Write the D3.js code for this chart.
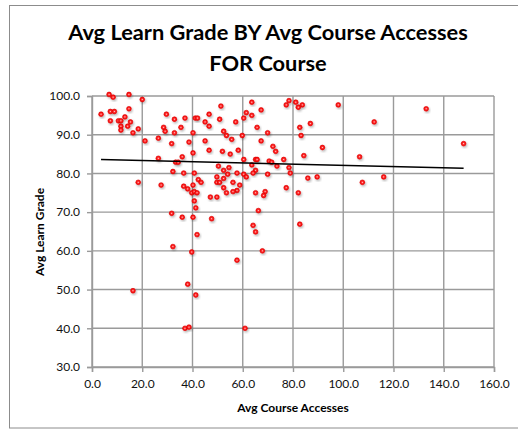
<!DOCTYPE html>
<html>
<head>
<meta charset="utf-8">
<script src="https://cdn.jsdelivr.net/npm/d3@7"></script>
<style>
  html, body { margin: 0; padding: 0; background: #fff; }
  svg { display: block; font-family: Lato, "Open Sans", sans-serif; }
</style>
</head>
<body>
<svg id="chart" width="518" height="433"></svg>
<script>
// Average course accesses per course (x) and average learn grade (y)
const accesses = [
  6.8, 8.4, 14.7, 20.0, 3.6, 7.3, 8.9, 14.7, 13.1, 7.3, 10.5, 11.5, 15.3, 11.5, 14.2, 11.5, 18.4, 16.3,
  29.6, 32.8, 37.0, 41.1, 42.0, 46.6, 45.0, 46.6, 50.8, 28.5, 29.1, 32.8, 35.4, 40.2, 21.1, 26.4, 31.7,
  38.6, 45.0, 46.6, 40.2, 26.4, 35.9, 33.3, 34.3, 50.3, 32.2, 36.5, 40.7, 49.7, 42.3, 43.4, 49.7, 50.8,
  18.4, 27.5, 36.5, 40.2, 38.1, 39.7, 40.7, 41.8, 40.7, 47.1, 49.7,
  63.6, 78.4, 77.3, 81.1, 83.7, 82.1, 98.0, 51.3, 67.3, 61.4, 63.6, 60.4, 57.2, 65.7, 82.7, 86.9, 52.4,
  53.5, 55.6, 59.8, 69.9, 83.2, 67.3, 51.9, 58.2, 55.0, 72.0, 73.1, 91.7, 84.3, 60.4, 65.1, 65.7, 70.5,
  71.5, 76.3, 63.6, 73.6, 78.4, 54.5, 52.4, 65.1, 64.1, 57.7, 60.4, 61.4, 54.0, 69.9, 78.9, 89.6, 85.9,
  56.1, 58.8, 52.4, 57.7, 56.1, 53.5, 65.1, 68.9, 68.3, 77.3, 82.1, 52.4,
  66.2, 47.6, 64.1, 65.1, 82.7, 67.8, 57.7, 60.9,
  31.7, 35.9, 40.2, 41.3, 41.8, 32.2, 39.7, 38.1, 16.3, 41.3, 37.0, 38.6,
  112.3, 133.0, 106.5, 147.9, 116.1, 107.6
];
const grades = [
  100.4, 99.7, 100.4, 99.1, 95.3, 96.0, 96.0, 96.7, 94.6, 93.6, 93.6, 93.6, 93.3, 92.2, 92.2, 91.2, 91.5, 90.5,
  95.3, 94.0, 94.3, 94.3, 94.3, 95.3, 93.3, 92.2, 94.0, 91.9, 90.9, 90.5, 91.9, 90.5, 88.4, 89.1, 87.7,
  88.1, 88.4, 86.0, 85.3, 83.9, 84.3, 82.9, 82.9, 81.9, 80.5, 80.1, 80.1, 79.1, 78.4, 77.7, 77.7, 77.7,
  77.7, 77.0, 76.7, 77.0, 76.0, 75.0, 75.3, 75.0, 72.9, 73.9, 73.9,
  98.4, 98.8, 97.7, 98.4, 97.7, 97.1, 97.7, 97.4, 96.4, 95.7, 95.0, 94.3, 93.3, 91.9, 91.9, 92.9, 90.9,
  89.8, 88.8, 89.8, 90.5, 89.8, 88.4, 85.7, 86.0, 85.0, 87.0, 85.7, 86.7, 84.6, 83.6, 83.6, 83.6, 83.2,
  82.9, 83.6, 82.2, 81.9, 81.5, 81.5, 80.8, 80.8, 80.1, 80.1, 79.8, 79.1, 79.8, 79.8, 80.1, 79.1, 78.8,
  77.7, 77.0, 76.3, 75.6, 75.3, 75.0, 75.0, 75.3, 74.3, 76.3, 75.0, 78.7,
  70.4, 68.3, 66.6, 64.9, 66.9, 60.0, 57.6, 40.0,
  69.7, 68.7, 68.7, 71.1, 64.2, 61.1, 59.7, 51.4, 49.7, 48.6, 40.0, 40.3,
  93.3, 96.7, 84.3, 87.7, 79.1, 77.7
];
const xTicks = [0, 20, 40, 60, 80, 100, 120, 140, 160];
const yTicks = [30, 40, 50, 60, 70, 80, 90, 100];
const titleLines = ["Avg Learn Grade BY Avg Course Accesses", "FOR Course"];
const xTitle = "Avg Course Accesses";
const yTitle = "Avg Learn Grade";

const points = accesses.map((a, i) => ({ x: a, y: grades[i] }));

const svg = d3.select("#chart");
const plot = { left: 92, right: 494, top: 96, bottom: 367 };

const x = d3.scaleLinear().domain([0, 160]).range([plot.left, plot.right]);
const y = d3.scaleLinear().domain([30, 100]).range([plot.bottom, plot.top]);

// drop shadow and shading for the markers
const defs = svg.append("defs");
const shadow = defs.append("filter").attr("id", "shadow")
  .attr("x", "-50%").attr("y", "-50%").attr("width", "200%").attr("height", "200%");
shadow.append("feDropShadow").attr("dx", 1).attr("dy", 1.5)
  .attr("stdDeviation", 0.9).attr("flood-color", "#000").attr("flood-opacity", 0.3);
const grad = defs.append("radialGradient").attr("id", "dot");
grad.append("stop").attr("offset", "0%").attr("stop-color", "#ffd0d0");
grad.append("stop").attr("offset", "40%").attr("stop-color", "#ff3030");
grad.append("stop").attr("offset", "100%").attr("stop-color", "#f00000");

// outer chart frame
svg.append("rect")
  .attr("x", 9.5).attr("y", 5.5).attr("width", 530).attr("height", 422.5)
  .attr("fill", "none").attr("stroke", "#8c8c8c").attr("stroke-width", 1);

// title
svg.append("text")
  .attr("text-anchor", "middle")
  .attr("font-size", 21.8).attr("font-weight", "bold").attr("fill", "#000")
  .selectAll("tspan").data(titleLines).join("tspan")
  .attr("x", 268).attr("y", (d, i) => 40 + i * 31).text(d => d);

// gridlines
const grid = svg.append("g").attr("stroke", "#9a9a9a").attr("stroke-width", 1.4);
grid.selectAll("line.h").data(yTicks).join("line").attr("class", "h")
  .attr("x1", plot.left).attr("x2", plot.right)
  .attr("y1", d => y(d)).attr("y2", d => y(d));
grid.selectAll("line.v").data(xTicks).join("line").attr("class", "v")
  .attr("y1", plot.top).attr("y2", plot.bottom)
  .attr("x1", d => x(d)).attr("x2", d => x(d));

// axes
const fmt = d3.format(".1f");
const xAxis = svg.append("g").attr("transform", `translate(0,${plot.bottom})`)
  .call(d3.axisBottom(x).tickValues(xTicks).tickFormat(fmt).tickSize(5).tickPadding(7));
const yAxis = svg.append("g").attr("transform", `translate(${plot.left},0)`)
  .call(d3.axisLeft(y).tickValues(yTicks).tickFormat(fmt).tickSize(5).tickPadding(7));
[xAxis, yAxis].forEach(g => {
  g.select(".domain").attr("stroke", "#9a9a9a").attr("stroke-width", 1.4);
  g.selectAll(".tick line").attr("stroke", "#9a9a9a").attr("stroke-width", 1.4);
  g.selectAll(".tick text").attr("font-family", "Lato, sans-serif")
    .attr("font-size", 12).attr("fill", "#111");
});

// axis titles
svg.append("text")
  .attr("x", 293).attr("y", 412).attr("text-anchor", "middle")
  .attr("font-size", 12).attr("font-weight", "bold").text(xTitle);
svg.append("text")
  .attr("transform", "translate(44,232) rotate(-90)").attr("text-anchor", "middle")
  .attr("font-size", 12).attr("font-weight", "bold").text(yTitle);

// linear trendline (least squares) across the range of the data
const mx = d3.mean(points, d => d.x), my = d3.mean(points, d => d.y);
const slope = d3.sum(points, d => (d.x - mx) * (d.y - my)) / d3.sum(points, d => (d.x - mx) ** 2);
const intercept = my - slope * mx;
const [xMin, xMax] = d3.extent(points, d => d.x);

// points
svg.append("g").selectAll("circle").data(points).join("circle")
  .attr("cx", d => x(d.x)).attr("cy", d => y(d.y)).attr("r", 2.4)
  .attr("fill", "url(#dot)").attr("stroke", "#e00000").attr("stroke-width", 0.6)
  .attr("filter", "url(#shadow)");

svg.append("line")
  .attr("x1", x(xMin)).attr("y1", y(intercept + slope * xMin))
  .attr("x2", x(xMax)).attr("y2", y(intercept + slope * xMax))
  .attr("stroke", "#000").attr("stroke-width", 1.5);
</script>
</body>
</html>
